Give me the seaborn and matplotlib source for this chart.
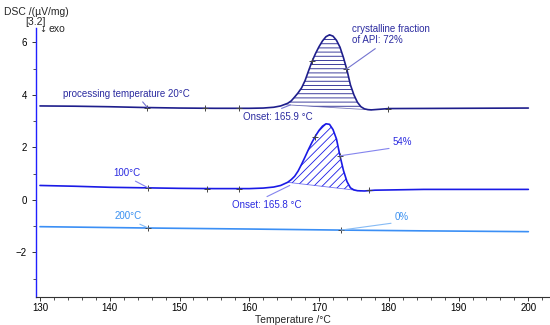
import numpy as np
import pandas as pd
import seaborn as sns
import matplotlib.pyplot as plt

# ---------------- data ----------------
temp_top = [130, 135, 140, 145, 150, 155, 160, 162, 163.5, 164.5, 165.5, 166.0, 166.5, 167.0,
            167.5, 168.0, 168.5, 169.0, 169.5, 170.0, 170.5, 171.0, 171.5, 172.0, 172.5, 173.0,
            173.5, 174.0, 174.5, 175.0, 175.5, 176.0, 176.5, 177.0, 177.5, 178.5, 180, 190, 200]
dsc_top = [3.58, 3.57, 3.55, 3.52, 3.50, 3.49, 3.49, 3.50, 3.53, 3.58, 3.68, 3.77, 3.92, 4.08,
           4.27, 4.55, 4.92, 5.28, 5.58, 5.84, 6.06, 6.22, 6.29, 6.24, 6.08, 5.82,
           5.42, 4.95, 4.38, 4.00, 3.72, 3.55, 3.47, 3.44, 3.43, 3.45, 3.48, 3.49, 3.50]

temp_mid = [130, 135, 140, 145, 150, 155, 160, 162, 163.5, 164.5, 165.5, 166.0, 166.5, 167.0,
            167.5, 168.0, 168.5, 169.0, 169.5, 170.0, 170.5, 171.0, 171.5, 172.0, 172.5, 173.0,
            173.5, 174.0, 174.5, 175.0, 175.5, 176.5, 178, 185, 200]
dsc_mid = [0.55, 0.52, 0.48, 0.46, 0.44, 0.43, 0.43, 0.45, 0.49, 0.55, 0.67, 0.77, 0.90, 1.10,
           1.36, 1.64, 1.93, 2.20, 2.44, 2.65, 2.81, 2.90, 2.88, 2.68, 2.32, 1.68,
           1.12, 0.70, 0.46, 0.38, 0.35, 0.34, 0.37, 0.40, 0.40]

temp_bot = [130, 145, 160, 173, 185, 200]
dsc_bot = [-1.02, -1.07, -1.11, -1.15, -1.18, -1.21]

# small "+" markers on the curves
mark_top_t = [145.4, 153.6, 158.5, 169.0, 173.9, 179.9]
mark_top_y = [3.52, 3.49, 3.49, 5.28, 4.98, 3.48]
mark_mid_t = [145.5, 154.0, 158.5, 169.4, 173.0, 177.2]
mark_mid_y = [0.46, 0.43, 0.43, 2.39, 1.68, 0.36]
mark_bot_t = [145.5, 173.2]
mark_bot_y = [-1.07, -1.15]

# integration limits of the melting peaks
peak_top_lim = [165.0, 177.5]
peak_mid_lim = [165.5, 176.0]

c_top, c_mid, c_bot = '#1e1e8c', '#1a1ae6', '#3b8ff5'
t_top, t_mid, t_bot = '#2b2ba0', '#2a2ae0', '#3a90f0'
l_top, l_mid, l_bot = '#7474d0', '#8484ee', '#86bbf5'

sns.set_theme(style='white')
plt.rcParams['font.family'] = ['Liberation Sans', 'DejaVu Sans']
plt.rcParams['hatch.linewidth'] = 0.6

fig = plt.figure(figsize=(5.5, 3.25), dpi=100)
ax = fig.add_axes([36/550, 1-297/325, 513/550, 269/325])

curves = [(temp_top, dsc_top, c_top), (temp_mid, dsc_mid, c_mid), (temp_bot, dsc_bot, c_bot)]
for tt, yy, col in curves:
    d = pd.DataFrame({'T': tt, 'DSC': yy})
    sns.lineplot(data=d, x='T', y='DSC', ax=ax, color=col, lw=1.2, sort=False)

# hatched peak areas
def hatch_peak(tt, yy, lim, col, hatch):
    tt = np.array(tt); yy = np.array(yy)
    y0, y1 = np.interp(lim, tt, yy)
    x = np.concatenate([[lim[0]], tt[(tt > lim[0]) & (tt < lim[1])], [lim[1]]])
    y = np.interp(x, tt, yy)
    base = y0 + (y1 - y0) * (x - lim[0]) / (lim[1] - lim[0])
    ax.fill_between(x, y, base, facecolor='none', edgecolor=col, hatch=hatch, lw=0)
    ax.plot(lim, [y0, y1], color=col, lw=0.6, alpha=0.6)

hatch_peak(temp_top, dsc_top, peak_top_lim, c_top, '----')
hatch_peak(temp_mid, dsc_mid, peak_mid_lim, c_mid, '////')

for tt, yy in [(mark_top_t, mark_top_y), (mark_mid_t, mark_mid_y), (mark_bot_t, mark_bot_y)]:
    ax.plot(tt, yy, ls='none', marker='+', ms=4, mew=0.7, color='#444444')

# labels with leader lines
def note(txt, xy, xytext, col, lcol, relpos, ha='center'):
    ax.annotate(txt, xy=xy, xytext=xytext, color=col, fontsize=7, ha=ha, va='center',
                arrowprops=dict(arrowstyle='-', color=lcol, lw=0.8, shrinkA=0, shrinkB=0,
                                relpos=relpos))

note('processing temperature 20°C', (145.4, 3.52), (133.3, 4.05), t_top, l_top, (0.6, 0.1), ha='left')
note('crystalline fraction\nof API: 72%', (173.9, 4.98), (174.7, 6.3), t_top, l_top, (0.38, 0.05), ha='left')
note('Onset: 165.9 °C', (165.9, 3.62), (159.1, 3.17), t_top, l_top, (0.4, 0.9), ha='left')
note('54%', (173.0, 1.68), (181.9, 2.22), t_mid, l_mid, (0.45, 0.0))
note('100°C', (145.5, 0.46), (142.4, 1.03), t_mid, l_mid, (0.6, 0.0))
note('Onset: 165.8 °C', (165.8, 0.55), (157.5, -0.19), t_mid, l_mid, (0.38, 0.9), ha='left')
note('200°C', (145.5, -1.07), (142.7, -0.61), t_bot, l_bot, (0.65, 0.0))
note('0%', (173.2, -1.15), (181.8, -0.65), t_bot, l_bot, (0.45, 0.0))

ax.set_xlim(129.43, 202.96)
ax.set_ylim(-3.70, 6.55)
ax.set_xticks(np.arange(130, 201, 10))
ax.set_xticks(np.arange(130, 203, 2), minor=True)
ax.set_yticks([-2, 0, 2, 4, 6])
ax.set_yticks([-3, -1, 1, 3, 5], minor=True)
ax.tick_params(which='both', direction='out', labelsize=7, colors='#333333', labelcolor='black')
ax.tick_params(which='major', length=3, width=0.7)
ax.tick_params(which='minor', length=2, width=0.6)
ax.tick_params(axis='x', pad=1.5)
ax.tick_params(axis='y', pad=3.5)
ax.xaxis.set_ticks_position('bottom')
ax.yaxis.set_ticks_position('left')

sns.despine(ax=ax)
ax.spines['left'].set_color('#2020ff')
ax.spines['left'].set_linewidth(1.0)
ax.spines['bottom'].set_color('#333333')
ax.spines['bottom'].set_linewidth(0.8)

ax.set_xlabel('Temperature /°C', fontsize=7.5, labelpad=1)
ax.set_ylabel('')

fig.text(4/550, 1-12/325, 'DSC /(µV/mg)', fontsize=7.5, va='center', ha='left')
fig.text(36/550, 1-22/325, '[3.2]', fontsize=7.5, va='center', ha='center')
fig.text(43/550, 1-30/325, '↓', fontsize=6, va='center', ha='center', family='DejaVu Sans')
fig.text(48/550, 1-29/325, 'exo', fontsize=7.5, va='center', ha='left')

fig.savefig('out.png', dpi=100)
